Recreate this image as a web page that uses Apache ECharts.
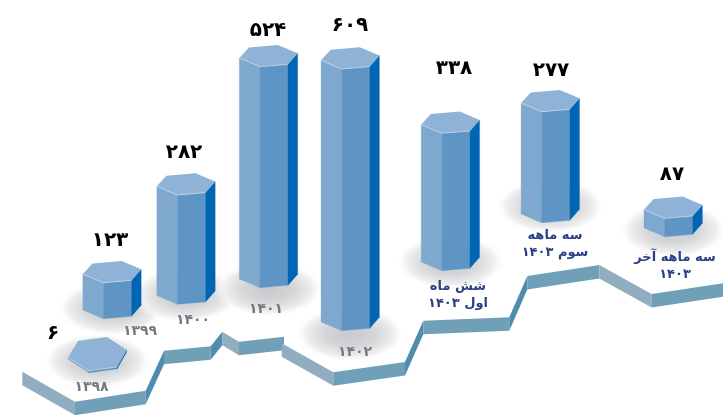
<!DOCTYPE html>
<html lang="fa">
<head>
<meta charset="utf-8">
<style>html,body{margin:0;padding:0;background:#fff}#c{width:723px;height:415px}</style>
<script src="https://cdn.jsdelivr.net/npm/echarts@6/dist/echarts.min.js"></script>
</head>
<body>
<div id="c" dir="rtl"></div>
<script>
// values as printed
const valueLabels = ['۶','۱۲۳','۲۸۲','۵۲۴','۶۰۹','۳۳۸','۲۷۷','۸۷'];
const periodLabels = ['۱۳۹۸','۱۳۹۹','۱۴۰۰','۱۴۰۱','۱۴۰۲','شش ماه\nاول ۱۴۰۳','سه ماهه\nسوم ۱۴۰۳','سه ماهه آخر\n۱۴۰۳'];
// in units of the hidden axes
const columnX = [97.5,112,186,268.5,350.2,450.4,550.3,673.2];
const columnTop = [370.7,282.7,195,66.7,69,133.3,111.7,218.3];
const columnBottom = [372.7,318.7,304.3,287.7,330.7,270.7,222.7,236.7];
const capDepth = [1.55,1,1,1,1,1,1,1];
const shadowY = [361,308,295,289,334,262,206,230];
const valueX = [53,110,184,268,350,454,551,672];
const valueY = [334,241,153,31,26,69,71,175];
const periodX = [91.5,140,193,266,355,458,555,675];
const periodY = [387,331,320,309,352,295,244,266];
// ribbon
const ribbonAX = [22.3,75,145.7,164,210.7,222.3,239,284];
const ribbonAY = [371.7,401.7,390.7,350.7,346.3,331.7,341.7,336.7];
const ribbonBX = [281.7,333.3,405,423.3,509.3,527.3,599.3,651.7,723];
const ribbonBY = [343.3,372.3,362,320.7,317.3,276,265,294,283.3];
const ribbonThickness = 13.5;

const hexDX = [-29.2,-19.5,9.5,29.2,19.5,-8.6];
const hexDY = [-8.7,-19.2,-21.7,-13.4,-2.4,0];
const colors = {top:'#8fb3d7',left:'#7fa8cf',front:'#5e95c4',right:'#0066b4',edge:'#c4d6e8',
  rise:'#4f8cae',flat:'#6fa0b8',fall:'#90aebf',value:'#000',year:'#77797e',period:'#2b3f86'};

const idx = valueLabels.map((_, i) => i);
function segs(xs, ys){
  const out=[];
  for(let i=0;i<xs.length-1;i++) out.push([xs[i],ys[i],xs[i+1],ys[i+1]]);
  return out;
}
const ribbonData = segs(ribbonAX,ribbonAY).concat(segs(ribbonBX,ribbonBY));

const option = {
  animation:false,
  backgroundColor:'#fff',
  grid:{left:0,right:0,top:0,bottom:0},
  xAxis:{type:'value',min:0,max:723,show:false},
  yAxis:{type:'value',min:0,max:415,inverse:true,show:false},
  series:[
    {type:'custom',silent:true,coordinateSystem:'cartesian2d',z:1,clip:true,
     data:ribbonData,
     renderItem(p,api){
       const a=api.coord([api.value(0),api.value(1)]), b=api.coord([api.value(2),api.value(3)]);
       const c=api.coord([api.value(2),api.value(3)+ribbonThickness]), d=api.coord([api.value(0),api.value(1)+ribbonThickness]);
       const slope=(b[1]-a[1])/(b[0]-a[0]);
       const fill=slope>0.3?colors.fall:(slope<-0.7?colors.rise:colors.flat);
       return {type:'polygon',shape:{points:[a,b,c,d]},style:{fill}};
     }},
    {type:'custom',silent:true,coordinateSystem:'cartesian2d',z:2,
     data:idx.map(i=>[columnX[i],shadowY[i]]),
     renderItem(p,api){
       const c=api.coord([api.value(0),api.value(1)]);
       return {type:'circle',x:c[0],y:c[1],scaleX:1.95,scaleY:1,shape:{cx:0,cy:0,r:28},
         style:{fill:new echarts.graphic.RadialGradient(0.5,0.5,0.5,[
           {offset:0,color:'rgba(200,201,204,1)'},{offset:0.45,color:'rgba(212,213,215,1)'},{offset:0.8,color:'rgba(238,238,239,1)'},{offset:1,color:'rgba(255,255,255,0)'}])}};
     }},
    {type:'custom',silent:true,coordinateSystem:'cartesian2d',z:3,
     data:idx.map(i=>[columnX[i],columnTop[i],columnBottom[i],capDepth[i]]),
     renderItem(p,api){
       const cx=api.value(0),t=api.value(1),b=api.value(2),k=api.value(3);
       const tv=hexDX.map((dx,j)=>api.coord([cx+dx,t+hexDY[j]*k]));
       const bv=hexDX.map((dx,j)=>api.coord([cx+dx,b+hexDY[j]*k]));
       const face=(i1,i2,fill)=>({type:'polygon',shape:{points:[tv[i1],tv[i2],bv[i2],bv[i1]]},style:{fill,stroke:fill,lineWidth:0.3}});
       return {type:'group',children:[
         face(0,5,colors.left),face(5,4,colors.front),face(4,3,colors.right),
         {type:'polygon',shape:{points:tv},style:{fill:colors.top}},
         {type:'polyline',shape:{points:[tv[0],tv[5],tv[4]]},style:{fill:'none',stroke:colors.edge,lineWidth:0.8}}
       ]};
     }},
    {type:'custom',silent:true,coordinateSystem:'cartesian2d',z:4,
     data:idx.map(i=>[valueX[i],valueY[i],i]),
     renderItem(p,api){
       const c=api.coord([api.value(0),api.value(1)]);
       return {type:'text',x:c[0],y:c[1],style:{text:valueLabels[api.value(2)],fill:colors.value,
         font:'bold 20px "DejaVu Sans"',textAlign:'center',textVerticalAlign:'middle'}};
     }},
    {type:'custom',silent:true,coordinateSystem:'cartesian2d',z:4,
     data:idx.map(i=>[periodX[i],periodY[i],i]),
     renderItem(p,api){
       const c=api.coord([api.value(0),api.value(1)]),i=api.value(2);
       return {type:'text',x:c[0],y:c[1],style:{text:periodLabels[i],fill:i<5?colors.year:colors.period,
         font:(i<5?'bold 14px':'bold 13px')+' "DejaVu Sans"',lineHeight:17,textAlign:'center',textVerticalAlign:'middle'}};
     }}
  ]
};
echarts.init(document.getElementById('c'),null,{renderer:'canvas'}).setOption(option);
</script>
</body>
</html>
